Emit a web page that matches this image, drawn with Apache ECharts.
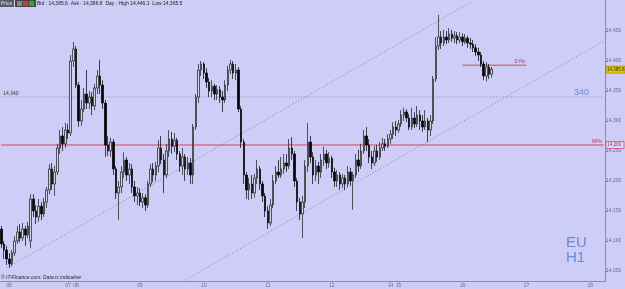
<!DOCTYPE html>
<html><head><meta charset="utf-8">
<script src="https://cdn.jsdelivr.net/npm/echarts@6/dist/echarts.min.js"></script>
<style>html,body{margin:0;padding:0;background:#cdcdf7}#c{width:625px;height:289px}</style>
</head><body><div id="c"></div>
<script>
// ---- data ----
const dayIdx = [3,25,28,52,76,100,124,146,149,173,197,221];
const dayLabels = ['06','07','08','09','10','11','12','14','15','16','17','18'];
const slotCount = 227;
const yTicks = [14050,14100,14150,14200,14250,14300,14350,14400,14450];
const yMin = 14033.33, yMax = 14501.67;
const hLevel = 14340, wPiv = 14260, dPiv = 14393, lastPrice = 14385.6;
const dPivRange = [173, 197];
const channelUpper = [[2, 14055], [177, 14500]];
const channelLower = [[69, 14035], [226, 14433]];
// [open, close, low, high]
const candles = [
[14120,14095,14088,14125],[14095,14085,14070,14100],[14085,14070,14060,14092],[14070,14062,14055,14080],[14062,14080,14058,14085],
[14080,14100,14075,14108],[14100,14115,14095,14125],[14115,14105,14098,14128],[14105,14120,14100,14130],[14120,14110,14092,14125],
[14110,14125,14105,14132],[14100,14170,14088,14178],[14170,14150,14140,14178],[14150,14140,14128,14160],[14140,14158,14132,14170],
[14158,14145,14135,14165],[14145,14165,14140,14172],[14165,14185,14155,14190],[14185,14220,14178,14228],[14220,14195,14185,14230],
[14195,14215,14175,14225],[14215,14255,14210,14262],[14255,14275,14245,14285],[14275,14262,14250,14290],[14262,14285,14255,14297],
[14285,14280,14270,14295],[14280,14400,14275,14410],[14400,14420,14390,14432],[14420,14360,14355,14425],[14360,14300,14290,14365],
[14300,14320,14292,14335],[14320,14345,14315,14355],[14345,14330,14320,14385],[14330,14340,14320,14350],[14340,14325,14310,14348],
[14325,14355,14318,14362],[14355,14375,14345,14385],[14375,14360,14345,14402],[14360,14330,14320,14368],[14330,14260,14240,14335],
[14260,14250,14242,14275],[14250,14265,14240,14272],[14265,14220,14210,14270],[14220,14180,14170,14225],[14180,14190,14135,14200],
[14190,14215,14180,14225],[14215,14235,14205,14248],[14235,14210,14200,14240],[14210,14220,14195,14230],[14220,14190,14180,14228],
[14190,14175,14165,14200],[14175,14180,14160,14190],[14180,14165,14158,14188],[14165,14172,14155,14180],[14172,14160,14150,14178],
[14160,14195,14155,14200],[14195,14220,14190,14228],[14220,14210,14198,14230],[14210,14225,14200,14232],[14225,14255,14215,14268],
[14255,14235,14228,14275],[14235,14210,14180,14245],[14210,14250,14205,14262],[14250,14270,14240,14285],[14270,14258,14245,14282],
[14258,14268,14248,14280],[14268,14245,14235,14272],[14245,14225,14215,14250],[14225,14240,14210,14255],[14240,14220,14200,14245],
[14220,14230,14210,14240],[14230,14210,14195,14238],[14210,14290,14195,14295],[14290,14340,14285,14345],[14340,14385,14330,14395],
[14385,14395,14375,14400],[14395,14380,14370,14398],[14380,14365,14355,14388],[14365,14350,14340,14372],[14350,14358,14340,14368],
[14358,14345,14335,14362],[14345,14352,14335,14360],[14352,14340,14330,14358],[14340,14335,14315,14350],[14335,14360,14330,14368],
[14360,14385,14350,14392],[14385,14395,14378,14402],[14395,14380,14370,14400],[14380,14385,14368,14395],[14385,14320,14315,14390],
[14320,14265,14255,14325],[14265,14210,14195,14270],[14210,14185,14170,14215],[14185,14195,14168,14205],[14195,14180,14170,14210],
[14180,14205,14172,14212],[14205,14220,14195,14235],[14220,14195,14185,14225],[14195,14175,14165,14200],[14175,14150,14140,14180],
[14150,14130,14120,14158],[14130,14160,14125,14170],[14160,14200,14155,14210],[14200,14215,14195,14225],[14215,14210,14205,14235],
[14210,14220,14205,14240],[14220,14230,14212,14245],[14230,14225,14215,14245],[14225,14255,14220,14270],[14255,14245,14235,14273],
[14245,14200,14190,14250],[14200,14165,14150,14205],[14165,14145,14135,14172],[14145,14165,14105,14175],[14165,14225,14155,14235],
[14225,14265,14215,14297],[14265,14240,14230,14275],[14240,14210,14195,14248],[14210,14225,14200,14235],[14225,14215,14195,14232],
[14215,14235,14205,14245],[14235,14245,14225,14257],[14245,14230,14220,14252],[14230,14238,14222,14248],[14238,14215,14205,14242],
[14215,14200,14190,14222],[14200,14210,14190,14218],[14210,14195,14185,14215],[14195,14205,14188,14212],[14205,14195,14185,14210],
[14195,14215,14190,14225],[14215,14200,14192,14222],[14200,14210,14152,14215],[14210,14235,14205,14245],[14235,14225,14215,14252],
[14225,14250,14220,14262],[14250,14275,14245,14285],[14275,14260,14250,14290],[14260,14240,14230,14270],[14240,14230,14220,14250],
[14230,14250,14225,14258],[14250,14240,14232,14260],[14240,14255,14235,14265],[14255,14262,14250,14272],[14262,14258,14250,14270],
[14258,14270,14255,14278],[14270,14278,14262,14285],[14278,14290,14270,14298],[14290,14285,14275,14300],[14285,14295,14280,14302],
[14295,14310,14290,14318],[14310,14315,14300,14322],[14315,14305,14298,14320],[14305,14290,14285,14312],[14290,14305,14285,14322],
[14305,14295,14288,14315],[14295,14310,14290,14325],[14310,14300,14285,14318],[14300,14290,14282,14310],[14290,14300,14285,14318],
[14300,14285,14265,14305],[14285,14300,14275,14310],[14300,14370,14295,14375],[14370,14425,14365,14440],[14425,14440,14418,14477],
[14440,14430,14420,14450],[14430,14440,14425,14452],[14440,14435,14428,14450],[14435,14445,14430,14455],[14445,14438,14432,14452],
[14438,14442,14430,14450],[14442,14435,14428,14448],[14435,14440,14430,14448],[14440,14432,14425,14446],[14432,14438,14428,14445],
[14438,14430,14422,14442],[14430,14428,14420,14438],[14428,14422,14415,14435],[14422,14415,14408,14428],[14415,14410,14400,14422],
[14410,14395,14390,14415],[14395,14375,14368,14400],[14375,14390,14366,14398],[14390,14378,14370,14395],[14378,14386,14372,14390]
];

const categories = Array.from({length: slotCount}, (_, i) => 'h' + i);
const fmt = v => Number(v).toLocaleString('en-US', {maximumFractionDigits: 1});
const isDay = i => dayIdx.indexOf(i) >= 0;
const lastIdx = slotCount - 1;

const chart = echarts.init(document.getElementById('c'), null, {renderer: 'canvas'});
const FONT = 'Liberation Sans';
const RED = '#d04868';
const GRAY = '#8080a8';
const refLine = (pts, color, type, z) => ({
  type: 'line', data: pts, silent: true, z: z, symbol: 'none', showSymbol: false,
  lineStyle: {color: color, type: type, width: 1}, itemStyle: {color: color},
  emphasis: {disabled: true}, animation: false
});
const option = {
  backgroundColor: '#cdcdf7',
  animation: false,
  grid: {left: 0, right: 20, top: 0, bottom: 8, containLabel: false},
  xAxis: {
    type: 'category', data: categories, boundaryGap: true,
    axisLine: {show: true, lineStyle: {color: '#8a8ab0', width: 1}},
    axisTick: {show: true, interval: (i) => isDay(i), length: 2, alignWithLabel: true, lineStyle: {color: '#8a8ab0'}},
    axisLabel: {interval: (i) => isDay(i), hideOverlap: false, formatter: (v, i) => dayLabels[dayIdx.indexOf(i)] || '',
      fontSize: 5, color: '#6a6a80', margin: 2, fontFamily: FONT},
    splitLine: {show: false}
  },
  yAxis: {
    type: 'value', position: 'right', min: yMin, max: yMax, scale: true,
    axisLine: {show: true, lineStyle: {color: '#8a8ab0', width: 1}},
    axisTick: {show: true, customValues: yTicks, length: 2, inside: false, lineStyle: {color: '#8a8ab0'}},
    axisLabel: {customValues: yTicks, formatter: v => fmt(v), fontSize: 5, color: '#6a6a80', margin: 1, fontFamily: FONT},
    splitLine: {show: false}
  },
  series: [
    refLine([[0, hLevel], [lastIdx, hLevel]], GRAY, [1, 2], 1),
    refLine(channelUpper, GRAY, [1, 2], 1),
    refLine(channelLower, GRAY, [1, 2], 1),
    refLine([[0, wPiv], [lastIdx, wPiv]], RED, 'solid', 2),
    refLine([[dPivRange[0], dPiv], [dPivRange[1], dPiv]], RED, 'solid', 2),
    {
      type: 'candlestick', z: 3,
      data: candles,
      barWidth: 2,
      itemStyle: {color: '#d4d4dc', color0: '#000000', borderColor: '#1a1a1a', borderColor0: '#000000', borderWidth: 0.7}
    }
  ]
};
chart.setOption(option);

// labels positioned through the library's scales
const px = (i, v) => chart.convertToPixel({xAxisIndex: 0, yAxisIndex: 0}, [i, v]);
const pW = px(lastIdx, wPiv);
const pL = px(lastIdx, lastPrice);
const pH = px(0, hLevel);
const pD = px(dPivRange[1], dPiv);
chart.setOption({
  graphic: [
    {type: 'rect', left: 0, top: 0, shape: {width: 14, height: 7}, style: {fill: '#5a5a66'}},
    {type: 'text', left: 1, top: 1, style: {text: 'Price', fontSize: 5, fill: '#e0e0e0', fontFamily: FONT}},
    {type: 'rect', left: 15, top: 0, shape: {width: 21, height: 7}, style: {fill: '#444'}},
    {type: 'rect', left: 17, top: 1, shape: {width: 5, height: 5}, style: {fill: '#888'}},
    {type: 'rect', left: 23, top: 1, shape: {width: 5, height: 5}, style: {fill: '#c04040'}},
    {type: 'rect', left: 29, top: 1, shape: {width: 5, height: 5}, style: {fill: '#40a040'}},
    {type: 'text', left: 37, top: 1.5, style: {text: 'Bid : 14,385.6  Ask : 14,386.8  Day : High 14,446.1  Low 14,365.5', fontSize: 5, fill: '#222', fontFamily: FONT}},
    {type: 'text', left: 1, top: 275, style: {text: '\u00a9 IT-Finance.com. Data is indicative', fontSize: 5, fontStyle: 'italic', fill: '#222', fontFamily: FONT}},
    {type: 'text', left: 574, top: 88, style: {text: '340', fontSize: 9, fill: '#6a8ad0', fontFamily: FONT}},
    {type: 'text', left: 566, top: 235, style: {text: 'EU', fontSize: 15, fill: '#6a8ad0', fontFamily: FONT}},
    {type: 'text', left: 566, top: 250, style: {text: 'H1', fontSize: 15, fill: '#6a8ad0', fontFamily: FONT}},
    {type: 'text', z: 11, x: pH[0] + 2, y: pH[1] - 6, style: {text: fmt(hLevel), fontSize: 5, fill: '#333', fontFamily: FONT}},
    {type: 'text', z: 11, x: pW[0] - 12, y: pW[1] - 5.5, style: {text: 'WPiv', fontSize: 4.5, fill: '#c03050', fontFamily: FONT}},
    {type: 'text', z: 11, x: pD[0] - 12, y: pD[1] - 6, style: {text: 'D Piv', fontSize: 4.5, fill: '#c03050', fontFamily: FONT}},
    {type: 'rect', z: 10, x: 606, y: pW[1] - 3.5, shape: {width: 18, height: 7}, style: {fill: '#d8d8f8', stroke: RED, lineWidth: 0.7}},
    {type: 'text', z: 11, x: 607.5, y: pW[1] - 2.5, style: {text: fmt(wPiv), fontSize: 4.5, fill: '#c03050', fontFamily: FONT}},
    {type: 'rect', z: 10, x: 606, y: pL[1] - 3.5, shape: {width: 19, height: 7}, style: {fill: '#e8c800', stroke: '#8a6a00', lineWidth: 0.5}},
    {type: 'text', z: 11, x: 607, y: pL[1] - 2.5, style: {text: fmt(lastPrice), fontSize: 4.5, fill: '#222', fontFamily: FONT}}
  ]
});
</script>
</body></html>
